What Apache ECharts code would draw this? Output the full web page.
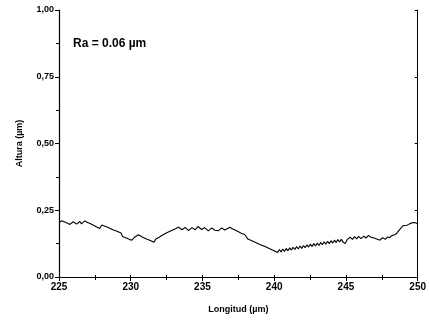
<!DOCTYPE html>
<html>
<head>
<meta charset="utf-8">
<script src="https://cdn.jsdelivr.net/npm/echarts@6/dist/echarts.min.js"></script>
<style>
  html, body { margin: 0; padding: 0; background: #fff; }
  #main { width: 429px; height: 320px; }
</style>
</head>
<body>
<div id="main"></div>
<script>
// perfil de rugosidad, [longitud (µm), altura (µm)]
var profile = [
  [225.00, 0.203], [225.19, 0.211], [225.40, 0.206], [225.60, 0.201], [225.76, 0.197],
  [225.99, 0.207], [226.10, 0.203], [226.22, 0.198], [226.45, 0.208], [226.57, 0.199],
  [226.79, 0.210], [227.00, 0.204], [227.20, 0.199], [227.40, 0.194], [227.60, 0.188],
  [227.83, 0.182], [227.99, 0.195], [228.20, 0.190], [228.40, 0.186], [228.60, 0.181],
  [228.80, 0.176], [229.00, 0.172], [229.32, 0.165], [229.43, 0.152], [229.55, 0.146],
  [229.90, 0.141], [230.08, 0.138], [230.24, 0.148], [230.36, 0.144], [230.54, 0.158],
  [230.80, 0.150], [231.10, 0.142], [231.40, 0.136], [231.62, 0.130], [231.75, 0.142],
  [231.85, 0.136], [231.98, 0.149], [232.10, 0.142], [232.22, 0.157], [232.35, 0.150],
  [232.48, 0.165], [232.60, 0.158], [232.77, 0.172], [232.90, 0.166], [233.12, 0.181],
  [233.34, 0.187], [233.57, 0.177], [233.80, 0.186], [234.03, 0.174], [234.26, 0.185],
  [234.50, 0.177], [234.68, 0.189], [234.95, 0.178], [235.15, 0.185], [235.41, 0.173],
  [235.64, 0.184], [235.87, 0.175], [236.10, 0.173], [236.33, 0.184], [236.55, 0.176],
  [236.68, 0.174], [236.91, 0.186], [237.10, 0.180], [237.26, 0.176], [237.48, 0.170],
  [237.70, 0.164], [237.94, 0.159], [238.06, 0.153], [238.17, 0.142], [238.60, 0.132],
  [239.00, 0.122], [239.40, 0.113], [239.80, 0.103], [240.24, 0.092], [240.36, 0.103],
  [240.48, 0.094], [240.60, 0.105], [240.72, 0.096], [240.84, 0.107], [240.96, 0.098],
  [241.08, 0.109], [241.20, 0.101], [241.32, 0.111], [241.44, 0.103], [241.56, 0.114],
  [241.68, 0.105], [241.80, 0.116], [241.92, 0.107], [242.04, 0.118], [242.16, 0.110],
  [242.28, 0.120], [242.40, 0.112], [242.52, 0.123], [242.64, 0.114], [242.76, 0.125],
  [242.88, 0.116], [243.00, 0.127], [243.12, 0.118], [243.24, 0.129], [243.36, 0.121],
  [243.48, 0.132], [243.60, 0.123], [243.72, 0.134], [243.84, 0.125], [243.96, 0.136],
  [244.08, 0.127], [244.20, 0.138], [244.32, 0.129], [244.44, 0.140], [244.56, 0.131],
  [244.68, 0.141], [244.80, 0.131], [244.95, 0.125], [245.10, 0.141], [245.30, 0.149],
  [245.45, 0.141], [245.60, 0.151], [245.75, 0.143], [245.88, 0.152], [246.05, 0.144],
  [246.25, 0.153], [246.40, 0.146], [246.57, 0.156], [246.75, 0.149], [246.95, 0.146],
  [247.15, 0.142], [247.37, 0.138], [247.55, 0.147], [247.75, 0.141], [247.90, 0.150],
  [248.06, 0.148], [248.20, 0.155], [248.40, 0.158], [248.55, 0.164], [248.63, 0.170],
  [248.80, 0.181], [248.98, 0.192], [249.10, 0.190], [249.25, 0.194], [249.43, 0.199],
  [249.55, 0.196], [249.67, 0.204], [249.85, 0.203], [250.00, 0.198]
];
var xRange = [225, 250];
var yRange = [0, 1];
var raLabel = 'Ra = 0.06 µm';

var font = 'Liberation Sans, Arial, sans-serif';
var black = '#000';

function coma(v) {
  return v.toFixed(2).replace('.', ',');
}

var chart = echarts.init(document.getElementById('main'));
chart.setOption({
  animation: false,
  grid: { left: 59, right: 7.5, top: 10, bottom: 43 },
  graphic: [{
    type: 'text',
    left: 73,
    top: 38,
    style: { text: raLabel, font: 'bold 12px ' + font, fill: black }
  }],
  xAxis: [{
    type: 'value',
    min: xRange[0], max: xRange[1], interval: 5,
    name: 'Longitud (µm)',
    nameLocation: 'middle',
    nameGap: 28,
    nameTextStyle: { fontFamily: font, fontWeight: 'bold', fontSize: 9, color: black },
    axisLine: { lineStyle: { color: black, width: 1.2 } },
    axisTick: { length: 4, lineStyle: { color: black } },
    minorTick: { show: true, splitNumber: 2, length: 3, lineStyle: { color: black } },
    splitLine: { show: false },
    axisLabel: { fontFamily: font, fontWeight: 'bold', fontSize: 10, color: black, margin: 5 }
  }, {
    type: 'value', position: 'top',
    min: xRange[0], max: xRange[1], interval: 5,
    axisLine: { show: true, lineStyle: { color: black, width: 1 } },
    axisTick: { length: 2, lineStyle: { color: black } },
    minorTick: { show: true, splitNumber: 2, length: 2, lineStyle: { color: black } },
    splitLine: { show: false },
    axisLabel: { show: false }
  }],
  yAxis: [{
    type: 'value',
    min: yRange[0], max: yRange[1], interval: 0.25,
    name: 'Altura (µm)',
    nameLocation: 'middle',
    nameGap: 35,
    nameTextStyle: { fontFamily: font, fontWeight: 'bold', fontSize: 9, color: black },
    axisLine: { show: true, lineStyle: { color: black, width: 1.2 } },
    axisTick: { show: true, length: 4, lineStyle: { color: black } },
    minorTick: { show: true, splitNumber: 2, length: 3, lineStyle: { color: black } },
    splitLine: { show: false },
    axisLabel: { fontFamily: font, fontWeight: 'bold', fontSize: 9, color: black, margin: 5, formatter: coma }
  }, {
    type: 'value', position: 'right',
    min: yRange[0], max: yRange[1], interval: 0.25,
    axisLine: { show: true, lineStyle: { color: black, width: 1 } },
    axisTick: { show: true, inside: true, length: 3, lineStyle: { color: black } },
    minorTick: { show: false },
    splitLine: { show: false },
    axisLabel: { show: false }
  }],
  series: [{
    type: 'line',
    data: profile,
    showSymbol: false,
    lineStyle: { color: black, width: 1.1 },
    clip: true
  }]
});
</script>
</body>
</html>
